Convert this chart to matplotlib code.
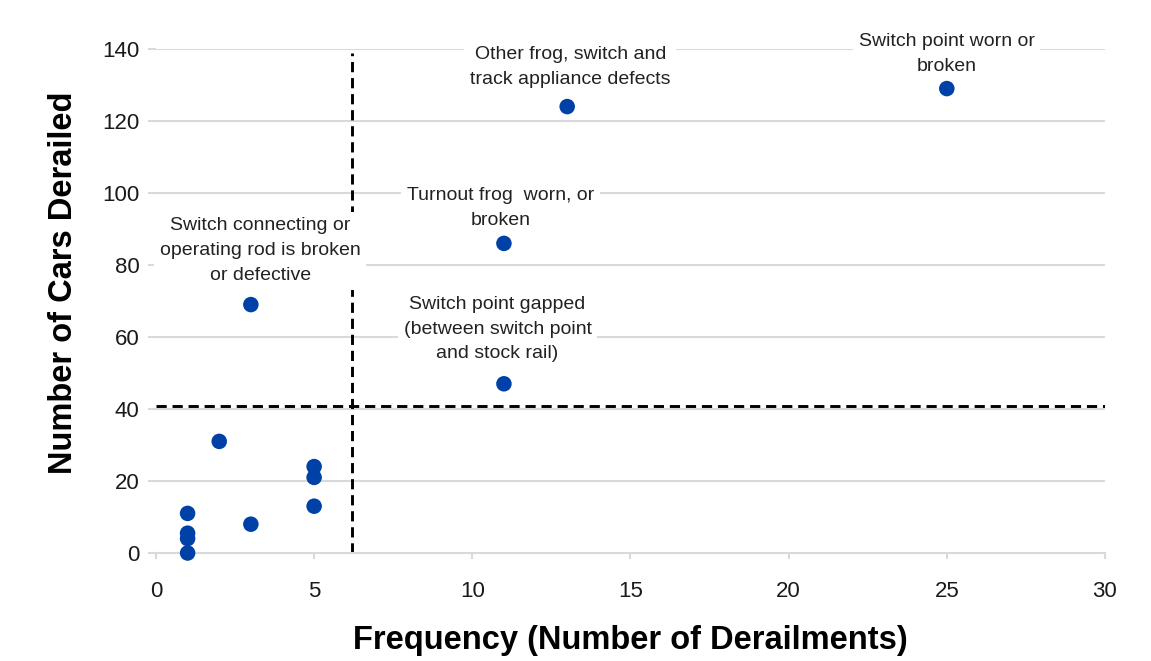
import matplotlib
matplotlib.use("Agg")
import matplotlib.pyplot as plt

plt.rcParams["font.family"] = ["Liberation Sans", "DejaVu Sans"]

# derailment causes: frequency vs. number of cars derailed
freq = [1, 1, 1, 1, 2, 3, 3, 5, 5, 5, 11, 11, 13, 25]
cars = [0, 4, 5.5, 11, 31, 8, 69, 13, 21, 24, 47, 86, 124, 129]

labels = [
    "Switch connecting or\noperating rod is broken\nor defective",
    "Other frog, switch and\ntrack appliance defects",
    "Turnout frog  worn, or\nbroken",
    "Switch point gapped\n(between switch point\nand stock rail)",
    "Switch point worn or\nbroken",
]
label_x = [3.3, 13.1, 10.9, 10.8, 25.0]
label_y = [84, 135, 95.8, 62.2, 138.7]

freq_cut = 6.2
cars_cut = 40.8

x_ticks = [0, 5, 10, 15, 20, 25, 30]
y_ticks = [0, 20, 40, 60, 80, 100, 120, 140]

fig = plt.figure(figsize=(11.51, 6.61), dpi=100)
ax = fig.add_axes([0.1355, 0.1634, 0.8245, 0.7625])

grid_c = "#d9d9d9"
for yv in y_ticks[1:]:
    ax.axhline(yv, color=grid_c, lw=1.5, zorder=1)

ax.plot([freq_cut, freq_cut], [0, 139], ls=(0, (3.5, 2)), color="black", lw=2.1, zorder=2)
ax.plot([0, 30], [cars_cut, cars_cut], ls=(0, (3.5, 2)), color="black", lw=2.1, zorder=2)

ax.scatter(freq, cars, s=125, color="#0041a8", zorder=4, edgecolors="none", clip_on=False)

for t, lx, ly in zip(labels, label_x, label_y):
    ax.text(lx, ly, t, ha="center", va="center", fontsize=14, linespacing=1.6,
            color="#222222", zorder=3,
            bbox=dict(facecolor="white", edgecolor="none", pad=4))

ax.set_xlim(0, 30)
ax.set_ylim(0, 140)
ax.set_xticks(x_ticks)
ax.set_yticks(y_ticks)
for s in ["top", "right", "left"]:
    ax.spines[s].set_visible(False)
ax.spines["bottom"].set_color(grid_c)
ax.spines["bottom"].set_linewidth(1.5)
ax.tick_params(axis="x", length=4.5, width=1.5, color=grid_c, pad=16, labelsize=16)
ax.tick_params(axis="y", length=6, width=1.5, color=grid_c, pad=6, labelsize=16)
for lbl in ax.get_xticklabels() + ax.get_yticklabels():
    lbl.set_color("#1a1a1a")

ax.set_xlabel("Frequency (Number of Derailments)", fontsize=23.5, fontweight="bold", labelpad=16)
ax.set_ylabel("Number of Cars Derailed", fontsize=23.5, fontweight="bold")
ax.yaxis.set_label_coords(-0.081, 0.536)

plt.savefig("out.png", dpi=100)
